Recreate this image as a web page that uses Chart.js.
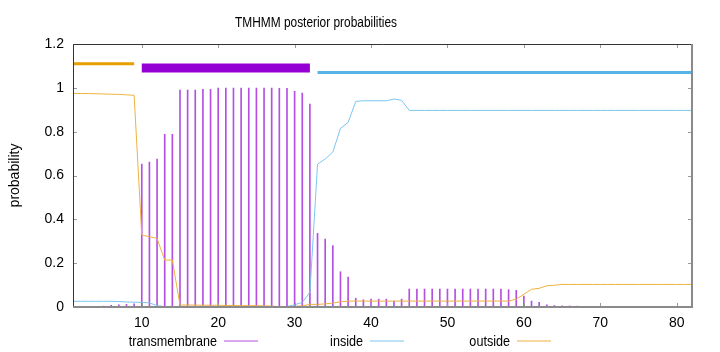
<!DOCTYPE html>
<html>
<head>
<meta charset="utf-8">
<script src="https://cdn.jsdelivr.net/npm/chart.js@4.4.1/dist/chart.umd.min.js"></script>
<style>
html,body{margin:0;padding:0;background:#fff;}
canvas{display:block;}
</style>
</head>
<body>
<canvas id="c" width="720" height="352" style="width:720px;height:352px"></canvas>
<script>
// ---- data ----
const titleText = 'TMHMM posterior probabilities';
const yAxisLabel = 'probability';
const residues = Array.from({length: 82}, (_, i) => i + 1);
const xTicks = [10, 20, 30, 40, 50, 60, 70, 80];
const yTicks = [0, 0.2, 0.4, 0.6, 0.8, 1, 1.2];

const transmembrane = [
  0, 0, 0, 0.002, 0.004, 0.008, 0.010, 0.012, 0.015,
  0.652, 0.661, 0.675, 0.788, 0.788, 0.990, 0.990, 0.990, 0.993, 0.993,
  0.999, 0.999, 0.999, 0.999, 0.999, 0.999, 0.999, 0.999, 0.998, 0.998,
  0.984, 0.976, 0.926,
  0.336, 0.310, 0.280, 0.161, 0.137, 0.040, 0.033, 0.036, 0.036, 0.036,
  0.027, 0.036, 0.082, 0.082, 0.082, 0.082, 0.082, 0.082, 0.082, 0.082,
  0.082, 0.082, 0.082, 0.082, 0.082, 0.079, 0.076, 0.050, 0.027, 0.021,
  0.010, 0.007, 0.005, 0.005, 0.004,
  0, 0, 0, 0, 0, 0, 0, 0, 0, 0, 0, 0, 0, 0, 0
];
const inside = [
  0.026, 0.026, 0.026, 0.026, 0.026, 0.026, 0.025, 0.023, 0.022, 0.021,
  0.019, 0.006, 0.002, 0.001, 0.001, 0.001, 0.001, 0.001, 0.001, 0.001,
  0.001, 0.001, 0.001, 0.001, 0.001, 0.001, 0.001, 0.001, 0.002, 0.010,
  0.021, 0.067, 0.652, 0.675, 0.707, 0.815, 0.842, 0.938, 0.941, 0.941,
  0.941, 0.941, 0.949, 0.943, 0.897, 0.897, 0.897, 0.897, 0.897, 0.897,
  0.897, 0.897, 0.897, 0.897, 0.897, 0.897, 0.897, 0.897, 0.897, 0.897,
  0.897, 0.897, 0.897, 0.897, 0.897, 0.897, 0.897, 0.897, 0.897, 0.897,
  0.897, 0.897, 0.897, 0.897, 0.897, 0.897, 0.897, 0.897, 0.897, 0.897,
  0.897, 0.897
];
const outside = [
  0.975, 0.974, 0.974, 0.973, 0.972, 0.971, 0.970, 0.968, 0.966, 0.328,
  0.321, 0.313, 0.214, 0.214, 0.009, 0.009, 0.009, 0.008, 0.008, 0.008,
  0.007, 0.007, 0.006, 0.006, 0.006, 0.005, 0.004, 0.002, 0.002, 0.003,
  0.005, 0.012, 0.012, 0.014, 0.018, 0.024, 0.027, 0.027, 0.027, 0.027,
  0.027, 0.027, 0.027, 0.027, 0.027, 0.027, 0.027, 0.027, 0.027, 0.027,
  0.027, 0.027, 0.027, 0.027, 0.027, 0.027, 0.027, 0.027, 0.036, 0.058,
  0.081, 0.085, 0.097, 0.099, 0.103, 0.103, 0.103, 0.103, 0.103, 0.103,
  0.103, 0.103, 0.103, 0.103, 0.103, 0.103, 0.103, 0.103, 0.103, 0.103,
  0.103, 0.103
];
// predicted topology segments (top bars)
const segLabels = ['outside', 'transmembrane', 'inside'];
const segStart = [1, 10, 33];
const segEnd = [9, 32, 82];
const segLevel = [1.11, 1.09, 1.07];

// ---- styles ----
const FONT = '"Liberation Sans", Arial, sans-serif';
Chart.defaults.font.family = FONT;
Chart.defaults.font.size = 14;
Chart.defaults.color = '#000';

const colTM = '#b450e1', colIn = '#7cc6ee', colOut = '#eeb23e';
const segColors = {outside: '#e69f00', transmembrane: '#9400d3', inside: '#56b4e9'};
const segWidths = {outside: 3, transmembrane: 9, inside: 3};

const pts = arr => arr.map((v, i) => ({x: residues[i], y: v}));

const datasets = [
  {type: 'line', label: 'inside', data: pts(inside), borderColor: colIn, borderWidth: 1,
   pointRadius: 0, tension: 0, fill: false, order: 1},
  {type: 'line', label: 'outside', data: pts(outside), borderColor: colOut, borderWidth: 1,
   pointRadius: 0, tension: 0, fill: false, order: 0},
  {type: 'bar', label: 'transmembrane', data: pts(transmembrane), backgroundColor: colTM,
   borderWidth: 0, barThickness: 1, order: 2}
];
segLabels.forEach((lab, i) => {
  datasets.push({
    type: 'line', label: lab + ' segment',
    data: [{x: segStart[i], y: segLevel[i]}, {x: segEnd[i], y: segLevel[i]}],
    borderColor: segColors[lab], borderWidth: segWidths[lab], borderCapStyle: 'butt',
    pointRadius: 0, tension: 0, fill: false, order: 3, clip: false
  });
});

const legendOrder = ['transmembrane', 'inside', 'outside'];
const legendTextRight = [217, 363, 510];
const TEXT_SQUEEZE = 0.9;   // reference font is narrower than Liberation Sans

function squeezedText(ctx, text, x, y, align, sx) {
  ctx.save();
  ctx.translate(x, y);
  ctx.scale(sx, 1);
  ctx.textAlign = align;
  ctx.fillText(text, 0, 0);
  ctx.restore();
}

const framePlugin = {
  id: 'frame',
  afterDraw(chart) {
    const {ctx, chartArea: a, scales: {x, y}} = chart;
    ctx.save();
    // inner ticks
    ctx.strokeStyle = '#9a9a9a';
    ctx.lineWidth = 1;
    ctx.beginPath();
    yTicks.forEach(v => {
      const py = Math.round(y.getPixelForValue(v)) + 0.5;
      ctx.moveTo(a.left, py); ctx.lineTo(a.left + 4, py);
      ctx.moveTo(a.right - 4, py); ctx.lineTo(a.right, py);
    });
    xTicks.forEach(v => {
      const px = Math.round(x.getPixelForValue(v)) + 0.5;
      ctx.moveTo(px, a.bottom); ctx.lineTo(px, a.bottom - 4);
      ctx.moveTo(px, a.top); ctx.lineTo(px, a.top + 4);
    });
    ctx.stroke();
    // borders
    ctx.strokeStyle = '#333';
    ctx.lineWidth = 1;
    ctx.beginPath();
    ctx.moveTo(a.left + 0.5, a.bottom);
    ctx.lineTo(a.left + 0.5, a.top + 0.5);
    ctx.lineTo(a.right, a.top + 0.5);
    ctx.stroke();
    ctx.strokeStyle = '#8a8a8a';
    ctx.lineWidth = 2;
    ctx.beginPath();
    ctx.moveTo(a.left, a.bottom);
    ctx.lineTo(a.right, a.bottom);
    ctx.lineTo(a.right, a.top);
    ctx.stroke();
    // title
    ctx.fillStyle = '#000';
    ctx.font = '14px ' + FONT;
    ctx.textBaseline = 'alphabetic';
    const tw = ctx.measureText(titleText).width;
    squeezedText(ctx, titleText, 316, 27, 'center', Math.min(1, 162 / tw));
    // legend
    legendOrder.forEach((lab, i) => {
      const ds = chart.data.datasets.find(d => d.label === lab);
      const xr = legendTextRight[i];
      ctx.fillStyle = '#000';
      squeezedText(ctx, lab, xr, 346, 'right', TEXT_SQUEEZE);
      ctx.strokeStyle = ds.type === 'line' ? ds.borderColor : ds.backgroundColor;
      ctx.lineWidth = 1;
      ctx.beginPath();
      ctx.moveTo(xr + 7, 341); ctx.lineTo(xr + 41, 341);
      ctx.stroke();
    });
    ctx.restore();
  }
};

new Chart(document.getElementById('c'), {
  type: 'line',
  data: {datasets},
  options: {
    responsive: false,
    animation: false,
    events: [],
    layout: {padding: {top: 44, right: 28, left: 0, bottom: 0}},
    plugins: {legend: {display: false}, title: {display: false}, tooltip: {enabled: false}},
    scales: {
      x: {
        type: 'linear', min: 1, max: 82, offset: false,
        grid: {display: false, drawTicks: false}, border: {display: false},
        ticks: {padding: 8, maxRotation: 0, autoSkip: false, color: '#000'},
        afterBuildTicks: s => { s.ticks = xTicks.map(v => ({value: v})); },
        afterFit: s => { s.height = 45; }
      },
      y: {
        type: 'linear', min: 0, max: 1.2,
        grid: {display: false, drawTicks: false}, border: {display: false},
        ticks: {padding: 9, color: '#000', callback: v => String(+v.toFixed(1))},
        afterBuildTicks: s => { s.ticks = yTicks.map(v => ({value: v})); },
        afterFit: s => { s.width = 73; },
        title: {display: true, text: yAxisLabel, color: '#000', padding: {top: 7, bottom: 0}}
      }
    }
  },
  plugins: [framePlugin]
});
</script>
</body>
</html>
